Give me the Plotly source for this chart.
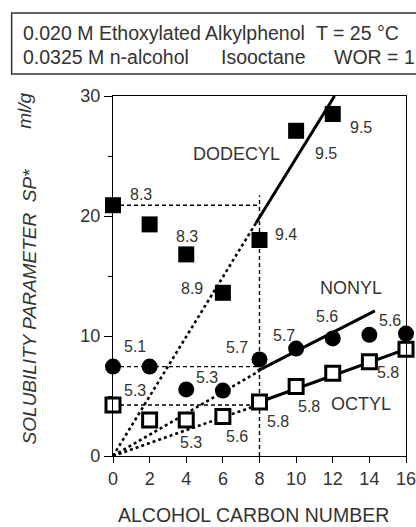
import plotly.graph_objects as go

# ---------------- data ----------------
carbon = [0, 2, 4, 6, 8, 10, 12, 14, 16]

dodecyl_x = [0, 2, 4, 6, 8, 10, 12]
dodecyl_y = [20.9, 19.3, 16.8, 13.6, 18.0, 27.1, 28.5]

nonyl_x = [0, 2, 4, 6, 8, 10, 12, 14, 16]
nonyl_y = [7.45, 7.45, 5.55, 5.45, 8.05, 8.95, 9.8, 10.1, 10.2]

octyl_x = [0, 2, 4, 6, 8, 10, 12, 14, 16]
octyl_y = [4.25, 3.0, 3.0, 3.3, 4.5, 5.8, 6.9, 7.85, 8.9]

# fitted lines (dotted part from origin, solid part)
dodecyl_dot_x, dodecyl_dot_y = [0, 7.8], [0, 19.4]
dodecyl_fit_x, dodecyl_fit_y = [7.8, 12.1], [19.4, 30.0]
nonyl_dot_x, nonyl_dot_y = [0, 8.0], [0, 7.1]
nonyl_fit_x, nonyl_fit_y = [7.9, 14.3], [7.1, 12.1]
octyl_dot_x, octyl_dot_y = [0, 8.0], [0, 4.3]
octyl_fit_x, octyl_fit_y = [8.0, 16.0], [4.5, 8.9]

# optimum guide line
opt_x = 8
opt_top = 21.7

# point labels: (index into series, text)
dodecyl_labels = [(0, "8.3"), (2, "8.3"), (3, "8.9"), (4, "9.4"), (5, "9.5"), (6, "9.5")]
nonyl_labels = [(0, "5.1"), (2, "5.3"), (4, "5.7"), (5, "5.7"), (6, "5.6"), (7, "5.6")]
octyl_labels = [(0, "5.3"), (2, "5.3"), (3, "5.6"), (4, "5.8"), (5, "5.8"), (7, "5.8")]

x_ticks = [0, 2, 4, 6, 8, 10, 12, 14, 16]
y_ticks = [0, 10, 20, 30]

# ---------------- placement / style ----------------
dodecyl_offsets = [(28, -11), (1, -18), (-31, -4), (26, -6), (30, 23), (28, 13)]
nonyl_offsets = [(22, -20), (21, -12), (-23, -12), (-12, -13), (-6, -22), (21, -14)]
octyl_offsets = [(22, -15), (5, 22), (14, 20), (18, 19), (13, 20), (19, 11)]

TXT = "#333333"
FONT = "Liberation Sans, Arial, sans-serif"

fig = go.Figure()

def line(xs, ys, dash, width):
    fig.add_trace(go.Scatter(x=xs, y=ys, mode="lines",
                             line=dict(color="black", width=width, dash=dash),
                             hoverinfo="skip", showlegend=False, cliponaxis=False))

# dashed guides
dash_style = "4px,3px"
for series in (dodecyl_y, nonyl_y, octyl_y):
    line([0, opt_x], [series[0], series[0]], dash_style, 1.4)
line([opt_x, opt_x], [0, opt_top], dash_style, 1.4)

# dotted rays from origin
for xs, ys in ((dodecyl_dot_x, dodecyl_dot_y), (nonyl_dot_x, nonyl_dot_y), (octyl_dot_x, octyl_dot_y)):
    line(xs, ys, "dot", 2.6)

# solid fits
for xs, ys in ((dodecyl_fit_x, dodecyl_fit_y), (nonyl_fit_x, nonyl_fit_y), (octyl_fit_x, octyl_fit_y)):
    line(xs, ys, "solid", 3)

# markers
fig.add_trace(go.Scatter(x=dodecyl_x, y=dodecyl_y, mode="markers",
                         marker=dict(symbol="square", size=16, color="black"),
                         showlegend=False, cliponaxis=False))
fig.add_trace(go.Scatter(x=nonyl_x, y=nonyl_y, mode="markers",
                         marker=dict(symbol="circle", size=16, color="black"),
                         showlegend=False, cliponaxis=False))
fig.add_trace(go.Scatter(x=octyl_x, y=octyl_y, mode="markers",
                         marker=dict(symbol="square", size=14, color="white",
                                     line=dict(color="black", width=3)),
                         showlegend=False, cliponaxis=False))

annotations = []

def add_labels(xs, ys, labels, offsets):
    for (i, t), (dx, dy) in zip(labels, offsets):
        annotations.append(dict(x=xs[i], y=ys[i], xref="x", yref="y", text=t,
                                showarrow=False, xshift=dx, yshift=-dy,
                                font=dict(size=16, color=TXT, family=FONT)))

add_labels(dodecyl_x, dodecyl_y, dodecyl_labels, dodecyl_offsets)
add_labels(nonyl_x, nonyl_y, nonyl_labels, nonyl_offsets)
add_labels(octyl_x, octyl_y, octyl_labels, octyl_offsets)

for name, x, y in (("DODECYL", 6.72, 25.2), ("NONYL", 13.0, 14.0), ("OCTYL", 13.56, 4.33)):
    annotations.append(dict(x=x, y=y, xref="x", yref="y", text=name, showarrow=False,
                            font=dict(size=18, color=TXT, family=FONT)))

# header text
def header(text, x, y):
    annotations.append(dict(x=x, y=y, xref="paper", yref="paper", text=text,
                            showarrow=False, xanchor="left", yanchor="middle",
                            font=dict(size=19.5, color=TXT, family=FONT)))

header("0.020 M Ethoxylated Alkylphenol", -0.315, 1.175)
header("T = 25 °C", 0.685, 1.175)
header("0.0325 M n-alcohol", -0.315, 1.108)
header("Isooctane", 0.363, 1.108)
header("WOR = 1", 0.746, 1.108)

# axis titles
annotations.append(dict(x=0.481, y=-0.164, xref="paper", yref="paper",
                        text="ALCOHOL CARBON NUMBER", showarrow=False,
                        xanchor="center", yanchor="middle",
                        font=dict(size=19.5, color=TXT, family=FONT)))
annotations.append(dict(x=-0.284, y=0.415, xref="paper", yref="paper",
                        text="<i>SOLUBILITY PARAMETER  SP*</i>", showarrow=False,
                        textangle=-90, xanchor="center", yanchor="middle",
                        font=dict(size=19, color=TXT, family=FONT)))
annotations.append(dict(x=-0.305, y=0.958, xref="paper", yref="paper",
                        text="<i>ml/g</i>", showarrow=False,
                        textangle=-90, xanchor="center", yanchor="middle",
                        font=dict(size=19, color=TXT, family=FONT)))

# figure is a little wider than the window so the last tick label is kept;
# the window crops it at 416 px like the reference
fig.update_layout(
    width=428, height=527,
    margin=dict(l=113, r=20, t=96, b=71),
    paper_bgcolor="white", plot_bgcolor="white",
    annotations=annotations,
    shapes=[dict(type="rect", xref="paper", yref="paper",
                 x0=-0.346, x1=1.05, y0=1.061, y1=1.2306,
                 line=dict(color="#333333", width=1.5), fillcolor="rgba(0,0,0,0)")],
    xaxis=dict(range=[0, 16], tickvals=x_ticks, ticktext=[str(v) for v in x_ticks],
               showgrid=False, zeroline=False, showline=True, linecolor="black",
               linewidth=1.3, mirror=True, ticks="outside", ticklen=6,
               tickcolor="black", tickwidth=1.3,
               tickfont=dict(size=18, color=TXT, family=FONT)),
    yaxis=dict(range=[0, 30], tickvals=y_ticks, ticktext=[str(v) for v in y_ticks],
               showgrid=False, zeroline=False, showline=True, linecolor="black",
               linewidth=1.3, mirror=True, ticks="outside", ticklen=8,
               tickcolor="black", tickwidth=1.3,
               minor=dict(tickvals=[5, 15, 25], ticks="outside", ticklen=4,
                          tickcolor="black", tickwidth=1.3),
               tickfont=dict(size=18, color=TXT, family=FONT)),
)

fig.write_html("out.html", config={"displayModeBar": False},
               post_script="document.body.style.margin='0px';document.body.style.overflow='hidden';")
